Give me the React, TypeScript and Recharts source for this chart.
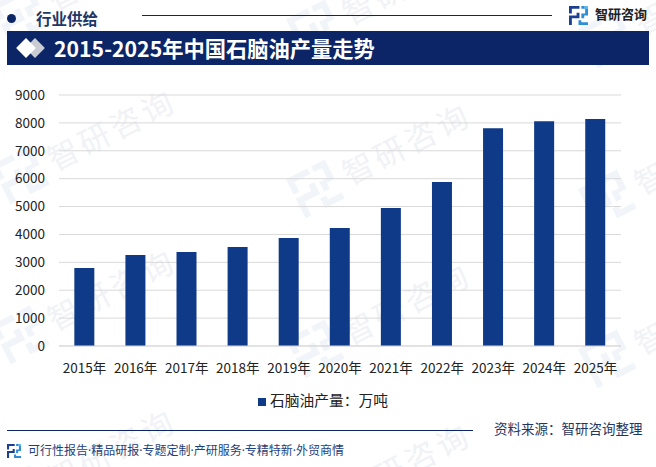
import React from 'react';
import { BarChart, Bar, XAxis, YAxis, CartesianGrid, Legend } from 'recharts';

const categories = ['2015年', '2016年', '2017年', '2018年', '2019年', '2020年', '2021年', '2022年', '2023年', '2024年', '2025年'];
const output = [2800, 3260, 3370, 3550, 3870, 4230, 4950, 5880, 7810, 8060, 8140];
const yTicks = [0, 1000, 2000, 3000, 4000, 5000, 6000, 7000, 8000, 9000];
const seriesName = '石脑油产量：万吨';
const footerLinks = '可行性报告·精品研报·专题定制·产研服务·专精特新·外贸商情';

const data = categories.map((year, i) => ({ year, value: output[i] }));

const NAVY = '#0b2566';
const BAR = '#0f3a87';
const FONT = '"Noto Sans CJK SC", "Noto Sans", sans-serif';

const place = (left: number, top: number, extra: React.CSSProperties = {}): React.CSSProperties => ({
    position: 'absolute',
    left,
    top,
    whiteSpace: 'nowrap',
    ...extra,
});

// the small square logo, same shape at every size
const Logo = ({ x, y, size, dark = '#1d3f8f', light = '#2f8fd6', corner = '#63b6e8' }: any) => (
    <svg style={{ position: 'absolute', left: x, top: y }} width={size} height={size} viewBox="0 0 20 20">
        <path d="M0 0H11V3H3V8H0Z M0 10H8V7H11V13H3V20H0Z" fill={dark} />
        <path d="M13 0H20V10H16V13H13V8H17V3H13Z M10 15H13V17H20V20H10Z" fill={light} />
        <rect x="16" y="0" width="4" height="3" fill={corner} />
    </svg>
);

// x, y = centre of the first character of the watermark
const Watermark = ({ x, y }: any) => (
    <div style={place(x, y, { width: 0, height: 0, transform: 'rotate(-27deg)', transformOrigin: '0 0' })}>
        <Logo x={-70} y={-22} size={44} dark="#f1f4f9" light="#f1f5fa" corner="#f1f5fa" />
        <div
            style={place(-16, -18, {
                color: '#f1f2f6',
                fontSize: 31,
                letterSpacing: 4,
                fontFamily: FONT,
                lineHeight: '36px',
            })}
        >
            智研咨询
        </div>
    </div>
);

const watermarks = [
    [63, -7], [358, 7], [650, 17],
    [63, 153], [358, 167], [650, 177],
    [63, 313], [358, 327], [650, 337],
    [63, 473], [358, 487],
];

const App = () => {
    return (
        <div style={{ position: 'absolute', left: 0, top: 0, width: 656, height: 467, background: '#fff', overflow: 'hidden', fontFamily: FONT }}>
            {watermarks.map(([x, y]) => (
                <Watermark key={`${x}-${y}`} x={x} y={y} />
            ))}

            {/* header */}
            <div style={place(7, 14, { width: 9, height: 9, borderRadius: '50%', background: NAVY })} />
            <div style={place(36, 6, { fontSize: 15.5, fontWeight: 700, color: '#1f3764', lineHeight: '24px' })}>行业供给</div>
            <div style={place(142, 15, { width: 410, height: 1, background: NAVY })} />
            <Logo x={569} y={6} size={19} />
            <div style={place(595, 3, { fontSize: 13, fontWeight: 700, color: '#222', lineHeight: '22px' })}>智研咨询</div>

            {/* title band */}
            <div style={place(7, 31, { width: 642, height: 34, background: NAVY })} />
            <div style={place(28, 41, { width: 14, height: 14, background: '#c9ccd3', transform: 'rotate(45deg)' })} />
            <div style={place(18.5, 41, { width: 14, height: 14, background: '#fff', transform: 'rotate(45deg)' })} />
            <div style={place(54, 33, { fontSize: 21.25, fontWeight: 700, color: '#fff', lineHeight: '30px' })}>2015-2025年中国石脑油产量走势</div>

            {/* chart */}
            <div style={place(0, 80)}>
                <BarChart
                    width={656}
                    height={335}
                    data={data}
                    margin={{ top: 15, right: 35, bottom: 18, left: 0 }}
                    barCategoryGap="30%"
                    style={{ fontFamily: FONT }}
                >
                    <CartesianGrid vertical={false} stroke="#d9d9d9" strokeWidth={1} />
                    <XAxis
                        dataKey="year"
                        interval={0}
                        axisLine={{ stroke: '#d9d9d9' }}
                        tickLine={false}
                        tickMargin={11}
                        tick={{ fill: '#222', fontSize: 13.5 }}
                    />
                    <YAxis
                        type="number"
                        domain={[0, 9000]}
                        ticks={yTicks}
                        axisLine={false}
                        tickLine={false}
                        width={59}
                        tickMargin={8}
                        tick={{ fill: '#222', fontSize: 13.5 }}
                    />
                    <Legend
                        verticalAlign="bottom"
                        iconType="square"
                        iconSize={8}
                        wrapperStyle={{ fontSize: 14.75, bottom: 5, left: 0, width: 656 }}
                        formatter={(v: string) => <span style={{ color: '#222' }}>{v}</span>}
                    />
                    <Bar dataKey="value" name={seriesName} fill={BAR} isAnimationActive={false} />
                </BarChart>
            </div>

            {/* footer */}
            <div style={place(494, 418, { fontSize: 13.5, color: '#1f3764', lineHeight: '20px' })}>资料来源：智研咨询整理</div>
            <div style={place(7, 430, { width: 466, height: 1, background: NAVY })} />
            <Logo x={7} y={444} size={14} />
            <div style={place(28, 442, { fontSize: 12, color: '#1f3f7a', lineHeight: '18px', fontFamily: '"Noto Sans", "Noto Sans CJK SC", sans-serif' })}>{footerLinks}</div>
        </div>
    );
};

export default App;
